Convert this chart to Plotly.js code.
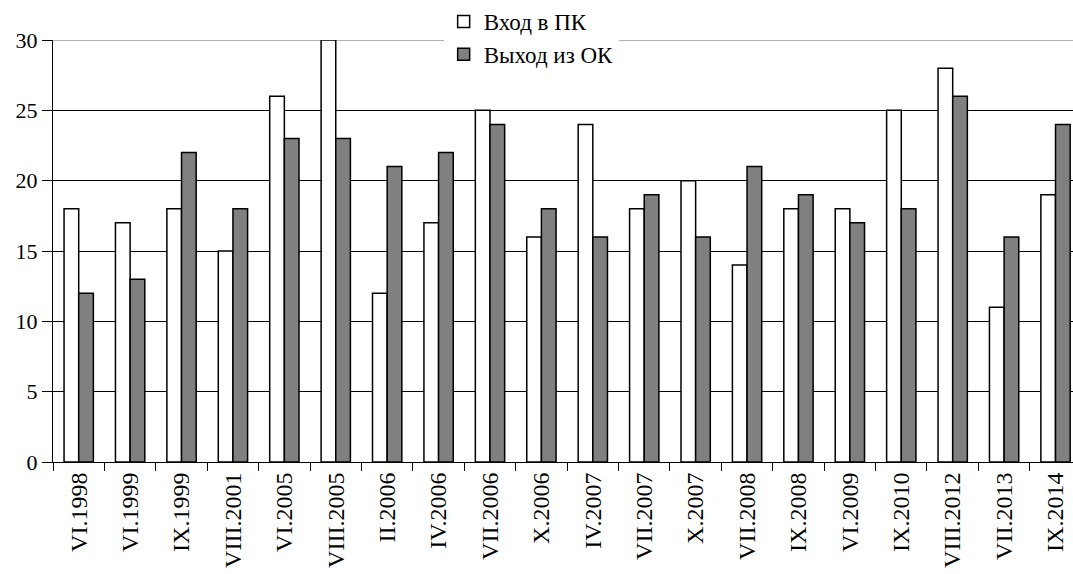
<!DOCTYPE html>
<html>
<head>
<meta charset="utf-8">
<script src="https://cdn.plot.ly/plotly-3.0.1.min.js"></script>
<style>
  html, body { margin: 0; padding: 0; background: #fff; }
</style>
</head>
<body>
<div id="chart" style="width:1073px;height:574px"></div>
<script>
// Survey dates (Roman-numeral month . year)
const periods = [
  "VI.1998", "VI.1999", "IX.1999", "VIII.2001", "VI.2005", "VIII.2005",
  "II.2006", "IV.2006", "VII.2006", "X.2006", "IV.2007", "VII.2007",
  "X.2007", "VII.2008", "IX.2008", "VI.2009", "IX.2010", "VIII.2012",
  "VII.2013", "IX.2014"
];

const entryPK = [18, 17, 18, 15, 26, 30, 12, 17, 25, 16, 24, 18, 20, 14, 18, 18, 25, 28, 11, 19];
const exitOK  = [12, 13, 22, 18, 23, 23, 21, 22, 24, 18, 16, 19, 16, 21, 19, 17, 18, 26, 16, 24];

const seriesNames = ["Вход в ПК", "Выход из ОК"];
const yTicks = [0, 5, 10, 15, 20, 25, 30];

const FONT = "Liberation Serif";

const traces = [
  {
    type: "bar",
    name: seriesNames[0],
    x: periods,
    y: entryPK,
    marker: { color: "#ffffff", line: { color: "#000000", width: 1.5 } }
  },
  {
    type: "bar",
    name: seriesNames[1],
    x: periods,
    y: exitOK,
    marker: { color: "#808080", line: { color: "#000000", width: 1.5 } }
  }
];

const layout = {
  width: 1073,
  height: 574,
  margin: { l: 53, r: 0, t: 38, b: 112, pad: 0 },
  paper_bgcolor: "#ffffff",
  plot_bgcolor: "#ffffff",
  font: { family: FONT, size: 22, color: "#000000" },
  barmode: "group",
  bargap: 0.43,
  bargroupgap: 0,
  showlegend: true,
  legend: {
    x: 0.383,
    xanchor: "left",
    y: 1.095,
    yanchor: "top",
    bgcolor: "#ffffff",
    borderwidth: 0,
    font: { family: FONT, size: 23, color: "#000000" },
    traceorder: "normal"
  },
  xaxis: {
    type: "category",
    range: [-0.5, 19.34],
    tickson: "boundaries",
    ticks: "outside",
    ticklen: 8,
    tickwidth: 1,
    tickcolor: "#000000",
    tickangle: -90,
    tickfont: { family: FONT, size: 24, color: "#000000" },
    showline: true,
    linecolor: "#000000",
    linewidth: 1,
    showgrid: false,
    zeroline: false,
    fixedrange: true
  },
  yaxis: {
    range: [0, 30],
    tickvals: yTicks,
    ticktext: yTicks.map(String),
    ticks: "outside",
    ticklen: 10,
    tickwidth: 1,
    tickcolor: "#000000",
    tickfont: { family: FONT, size: 22, color: "#000000" },
    showline: true,
    linecolor: "#000000",
    linewidth: 1,
    showgrid: true,
    gridcolor: "#000000",
    gridwidth: 1,
    zeroline: false,
    fixedrange: true
  },
  shapes: [
    {
      // lighter rule along the top of the value scale
      type: "line", xref: "paper", yref: "y",
      x0: 0, x1: 1, y0: 30, y1: 30,
      line: { color: "#9a9a9a", width: 1.5 },
      layer: "below"
    }
  ]
};

Plotly.newPlot("chart", traces, layout, { displayModeBar: false, staticPlot: true });
</script>
</body>
</html>
